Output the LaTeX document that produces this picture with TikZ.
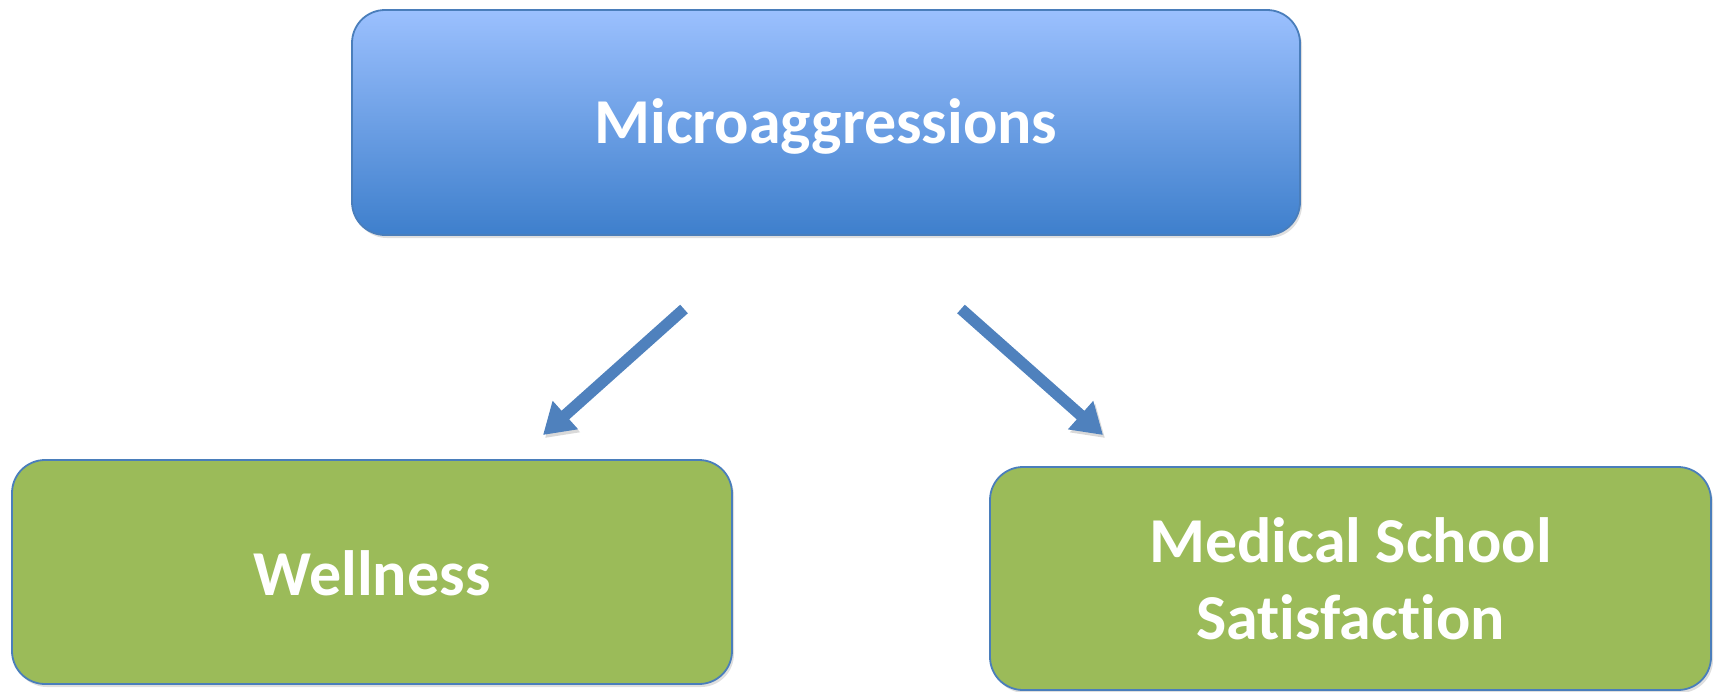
\documentclass[tikz,border=0pt]{standalone}
\usepackage{fontspec}
\setmainfont{Carlito}[Ligatures=NoCommon]
\usetikzlibrary{arrows.meta,shadows}
\definecolor{topA}{HTML}{9BC0FE}
\definecolor{topB}{HTML}{3E7FCC}
\definecolor{edgeblue}{HTML}{4A7EBB}
\definecolor{boxgreen}{HTML}{9BBB59}
\definecolor{arrowblue}{HTML}{4F81BD}
\tikzset{
  box/.style={draw=edgeblue, line width=1.8pt, rounded corners=33pt,
    font=\fontsize{64}{77}\selectfont\bfseries, text=white, align=center,
    inner sep=0pt, drop shadow={opacity=0.25, shadow xshift=2pt, shadow yshift=-3pt}},
  topbox/.style={box, top color=topA, bottom color=topB},
  greenbox/.style={box, fill=boxgreen},
  bigarrow/.style={draw=arrowblue, line width=11.5pt,
    -{Triangle[width=36pt,length=30pt]},
    preaction={draw=black, opacity=0.15, transform canvas={xshift=2pt,yshift=-3pt}}}
}
\begin{document}
\begin{tikzpicture}[x=1pt,y=-1pt]
\useasboundingbox (0,0) rectangle (1716,691);
\node[topbox, minimum width=948pt, minimum height=225pt, text height=41pt, text depth=0pt] (micro) at (826,122.5) {Microaggressions};
\node[greenbox, minimum width=720pt, minimum height=224pt, text height=41pt, text depth=0pt, text width=720pt] (well) at (372,572) {\raisebox{-3pt}{Wellness}};
\node[greenbox, minimum width=721pt, minimum height=223pt] (med) at (1350.5,578.5) {\raisebox{-3pt}{Medical School}\\\raisebox{-3pt}{Satisfaction}};
\coordinate (la) at (684,309);
\coordinate (lb) at (543,435);
\coordinate (ra) at (961,309);
\coordinate (rb) at (1103,435);
\draw[bigarrow] (la) -- (lb);
\draw[bigarrow] (ra) -- (rb);
\end{tikzpicture}
\end{document}
